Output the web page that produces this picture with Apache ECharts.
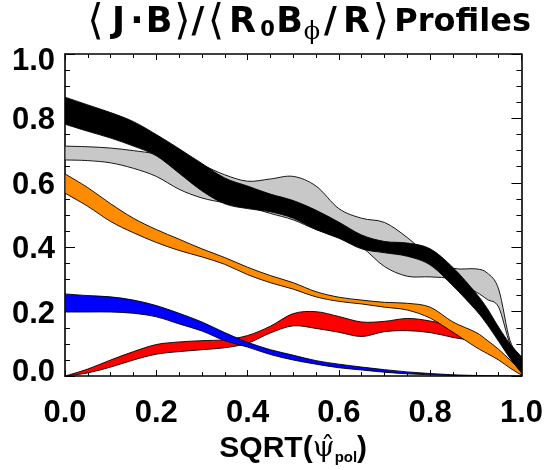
<!DOCTYPE html>
<html>
<head>
<meta charset="utf-8">
<script src="https://cdn.jsdelivr.net/npm/echarts@6/dist/echarts.min.js"></script>
<style>
  html, body { margin: 0; padding: 0; background: #fff; }
  #chart { width: 546px; height: 470px; }
</style>
</head>
<body>
<div id="chart"></div>
<script>
// Radial grid, SQRT(psi_pol)
const xs = [0, 0.05, 0.1, 0.15, 0.2, 0.25, 0.3, 0.35, 0.4, 0.45, 0.5, 0.55, 0.6, 0.65, 0.7, 0.75, 0.8, 0.85, 0.9, 0.925, 0.95, 0.975, 1.0];

// Total <J.B> profile band (black)
const blackLo = [0.782, 0.760, 0.739, 0.714, 0.684, 0.630, 0.575, 0.535, 0.520, 0.510, 0.490, 0.455, 0.428, 0.395, 0.383, 0.372, 0.345, 0.280, 0.205, 0.160, 0.108, 0.055, 0.010];
const blackHi = [0.866, 0.842, 0.818, 0.790, 0.750, 0.706, 0.660, 0.615, 0.590, 0.565, 0.545, 0.515, 0.478, 0.438, 0.418, 0.413, 0.395, 0.337, 0.258, 0.210, 0.152, 0.100, 0.060];

// Reference profile band (grey)
const greyLo = [0.671, 0.669, 0.662, 0.645, 0.620, 0.580, 0.553, 0.538, 0.525, 0.505, 0.485, 0.455, 0.430, 0.400, 0.340, 0.310, 0.308, 0.300, 0.262, 0.238, 0.214, 0.100, 0.050];
const greyHi = [0.714, 0.712, 0.708, 0.700, 0.690, 0.675, 0.655, 0.625, 0.605, 0.612, 0.620, 0.590, 0.520, 0.490, 0.477, 0.430, 0.370, 0.335, 0.333, 0.320, 0.270, 0.110, 0.060];

// Orange band
const orangeLo = [0.568, 0.527, 0.480, 0.445, 0.415, 0.390, 0.370, 0.347, 0.315, 0.290, 0.270, 0.246, 0.232, 0.224, 0.214, 0.205, 0.180, 0.136, 0.090, 0.070, 0.050, 0.025, 0.003];
const orangeHi = [0.628, 0.585, 0.535, 0.490, 0.455, 0.425, 0.395, 0.368, 0.338, 0.312, 0.290, 0.262, 0.245, 0.236, 0.229, 0.226, 0.214, 0.168, 0.136, 0.111, 0.083, 0.050, 0.015];

// Blue band
const blueLo = [0.199, 0.199, 0.199, 0.195, 0.184, 0.162, 0.140, 0.110, 0.090, 0.067, 0.050, 0.037, 0.026, 0.019, 0.012, 0.007, 0.004, 0.002, 0.001, 0.000, 0.000, 0.000, 0.000];
const blueHi = [0.255, 0.250, 0.246, 0.236, 0.219, 0.195, 0.168, 0.135, 0.105, 0.082, 0.065, 0.048, 0.037, 0.028, 0.020, 0.013, 0.008, 0.004, 0.002, 0.001, 0.000, 0.000, 0.000];

// Red band
const redLo = [0.000, 0.010, 0.028, 0.050, 0.068, 0.076, 0.082, 0.088, 0.102, 0.134, 0.156, 0.148, 0.136, 0.123, 0.138, 0.141, 0.135, 0.120, 0.106, 0.076, 0.060, 0.030, 0.005];
const redHi = [0.000, 0.022, 0.050, 0.076, 0.098, 0.106, 0.110, 0.113, 0.126, 0.155, 0.194, 0.200, 0.185, 0.168, 0.170, 0.179, 0.171, 0.153, 0.112, 0.080, 0.065, 0.035, 0.010];

const xTicks = ['0.0', '0.2', '0.4', '0.6', '0.8', '1.0'];
const yTicks = ['0.0', '0.2', '0.4', '0.6', '0.8', '1.0'];

const SANS = 'Liberation Sans, Arial, Helvetica, DejaVu Sans, sans-serif';
const WIDE = 'DejaVu Sans, Liberation Sans, sans-serif';
const SERIF = 'DejaVu Serif, Liberation Serif, serif';

// Bands drawn back to front
const bands = [
  { name: 'grey',   lo: greyLo,   hi: greyHi,   fill: '#c8c8c8' },
  { name: 'red',    lo: redLo,    hi: redHi,    fill: '#ff0000' },
  { name: 'blue',   lo: blueLo,   hi: blueHi,   fill: '#0000ff' },
  { name: 'orange', lo: orangeLo, hi: orangeHi, fill: '#ff8c00' },
  { name: 'black',  lo: blackLo,  hi: blackHi,  fill: '#000000' }
];

// Catmull-Rom through pixel points, as cubic Bezier path commands
function curve(pts, k) {
  let d = '';
  for (let i = 0; i < pts.length - 1; i++) {
    const p0 = pts[Math.max(i - 1, 0)];
    const p1 = pts[i];
    const p2 = pts[i + 1];
    const p3 = pts[Math.min(i + 2, pts.length - 1)];
    const c1x = p1[0] + (p2[0] - p0[0]) * k / 6;
    const c1y = p1[1] + (p2[1] - p0[1]) * k / 6;
    const c2x = p2[0] - (p3[0] - p1[0]) * k / 6;
    const c2y = p2[1] - (p3[1] - p1[1]) * k / 6;
    d += ' C' + c1x.toFixed(2) + ',' + c1y.toFixed(2) + ' ' + c2x.toFixed(2) + ',' + c2y.toFixed(2) + ' ' + p2[0].toFixed(2) + ',' + p2[1].toFixed(2);
  }
  return d;
}

function bandRenderer(fill) {
  return function (params, api) {
    if (params.dataIndexInside !== 0) return null;
    const n = params.dataInsideLength;
    const upper = [], lower = [];
    for (let i = 0; i < n; i++) {
      const x = api.value(0, i);
      lower.push(api.coord([x, api.value(1, i)]));
      upper.push(api.coord([x, api.value(2, i)]));
    }
    const lowerRev = lower.slice().reverse();
    const d = 'M' + upper[0][0].toFixed(2) + ',' + upper[0][1].toFixed(2) + curve(upper, 1) +
      ' L' + lowerRev[0][0].toFixed(2) + ',' + lowerRev[0][1].toFixed(2) + curve(lowerRev, 1) + ' Z';
    return {
      type: 'path',
      shape: { pathData: d },
      style: { fill: fill, stroke: '#000', lineWidth: 0.9 },
      silent: true
    };
  };
}

const series = bands.map(b => ({
  name: b.name,
  type: 'custom',
  coordinateSystem: 'cartesian2d',
  clip: true,
  silent: true,
  encode: { x: 0, y: [1, 2] },
  renderItem: bandRenderer(b.fill),
  data: xs.map((x, i) => [x, b.lo[i], b.hi[i]])
}));

const frameLine = { show: true, onZero: false, lineStyle: { color: '#000', width: 1.6 } };

function fmtX(v) {
  const k = Math.round(v * 5);
  return xTicks[k] !== undefined ? xTicks[k] : '';
}
function fmtY(v) {
  const k = Math.round(v * 5);
  const s = yTicks[k];
  if (k === 5) return '{t|' + s + '}';
  if (k === 0) return '{b|' + s + '}';
  return '{m|' + s + '}';
}

const labelFont = { fontFamily: SANS, fontWeight: 'bold', fontSize: 31, color: '#000' };

// Title pieces: [text, style, box width]
const titleParts = [
  ['\u27E8', 'br', 21], ['J', 'n', 25], ['\u00B7', 'n', 12], ['B', 'n', 32], ['\u27E9', 'br', 15],
  ['/', 'n', 16], ['\u27E8', 'br', 20], ['R', 'n', 33], ['0', 's0', 17], ['B', 'n', 27],
  ['\u03D5', 'sp', 18], ['/', 'n', 19], ['R', 'n', 33], ['\u27E9', 'br', 16], ['Profiles', 'p', 142]
];
const titleRich = {
  n:  { fontFamily: WIDE, fontWeight: 'bold', fontSize: 35, color: '#000', lineHeight: 44, align: 'center' },
  br: { fontFamily: WIDE, fontWeight: 'normal', fontSize: 42, color: '#000', lineHeight: 44, align: 'center' },
  s0: { fontFamily: WIDE, fontWeight: 'bold', fontSize: 21, color: '#000', verticalAlign: 'bottom', padding: [0, 0, 4, 0], align: 'center' },
  sp: { fontFamily: SERIF, fontWeight: 'normal', fontSize: 24, color: '#000', verticalAlign: 'bottom', padding: [0, 0, 0, 0], align: 'center' },
  p:  { fontFamily: WIDE, fontWeight: 'bold', fontSize: 32, color: '#000', lineHeight: 44, align: 'right' }
};
titleParts.forEach((p, i) => {
  titleRich['t' + i] = Object.assign({}, titleRich[p[1]], { width: p[2] });
});
const titleText = titleParts.map((p, i) => '{t' + i + '|' + p[0] + '}').join('');

const option = {
  animation: false,
  backgroundColor: '#fff',
  title: {
    left: 85, top: 1, padding: 0,
    text: titleText,
    textStyle: { rich: titleRich }
  },
  grid: { left: 65, right: 24, top: 54, bottom: 86, containLabel: false },
  xAxis: [
    {
      type: 'value', min: 0, max: 1, interval: 0.2, position: 'bottom',
      axisLine: frameLine,
      axisTick: { show: true, inside: true, length: 6, lineStyle: { color: '#000', width: 1 } },
      minorTick: { show: true, splitNumber: 4, length: 4, lineStyle: { color: '#000', width: 1 } },
      splitLine: { show: false }, minorSplitLine: { show: false },
      axisLabel: Object.assign({ margin: 22, formatter: fmtX }, labelFont),
      name: '{n|SQRT(}{psi|\u03C8\u0302}{sub|pol}{n|)}',
      nameLocation: 'middle', nameGap: 50,
      nameTextStyle: {
        rich: {
          n: { fontFamily: SANS, fontWeight: 'bold', fontSize: 30, color: '#000', lineHeight: 36 },
          psi: { fontFamily: SERIF, fontWeight: 'normal', fontSize: 28, color: '#000' },
          sub: { fontFamily: SANS, fontWeight: 'bold', fontSize: 15, color: '#000', verticalAlign: 'bottom', padding: [0, 0, 2, 0] }
        }
      }
    },
    {
      type: 'value', min: 0, max: 1, interval: 0.2, position: 'top',
      axisLine: frameLine,
      axisTick: { show: true, inside: true, length: 6, lineStyle: { color: '#000', width: 1 } },
      minorTick: { show: true, splitNumber: 4, length: 4, lineStyle: { color: '#000', width: 1 } },
      splitLine: { show: false }, axisLabel: { show: false }
    }
  ],
  yAxis: [
    {
      type: 'value', min: 0, max: 1, interval: 0.2, position: 'left',
      axisLine: frameLine,
      axisTick: { show: true, inside: true, length: 10, lineStyle: { color: '#000', width: 1 } },
      minorTick: { show: true, splitNumber: 4, length: 5, lineStyle: { color: '#000', width: 1 } },
      splitLine: { show: false }, minorSplitLine: { show: false },
      axisLabel: Object.assign({
        margin: 10, formatter: fmtY,
        rich: {
          t: Object.assign({ padding: [14, 0, 0, 0] }, labelFont),
          b: Object.assign({ padding: [0, 0, 8, 0] }, labelFont),
          m: Object.assign({ padding: [5, 0, 0, 0] }, labelFont)
        }
      }, labelFont)
    },
    {
      type: 'value', min: 0, max: 1, interval: 0.2, position: 'right',
      axisLine: frameLine,
      axisTick: { show: true, inside: true, length: 10, lineStyle: { color: '#000', width: 1 } },
      minorTick: { show: true, splitNumber: 4, length: 5, lineStyle: { color: '#000', width: 1 } },
      splitLine: { show: false }, axisLabel: { show: false }
    }
  ],
  series: series
};

const chart = echarts.init(document.getElementById('chart'), null, { renderer: 'canvas' });
chart.setOption(option);
</script>
</body>
</html>
